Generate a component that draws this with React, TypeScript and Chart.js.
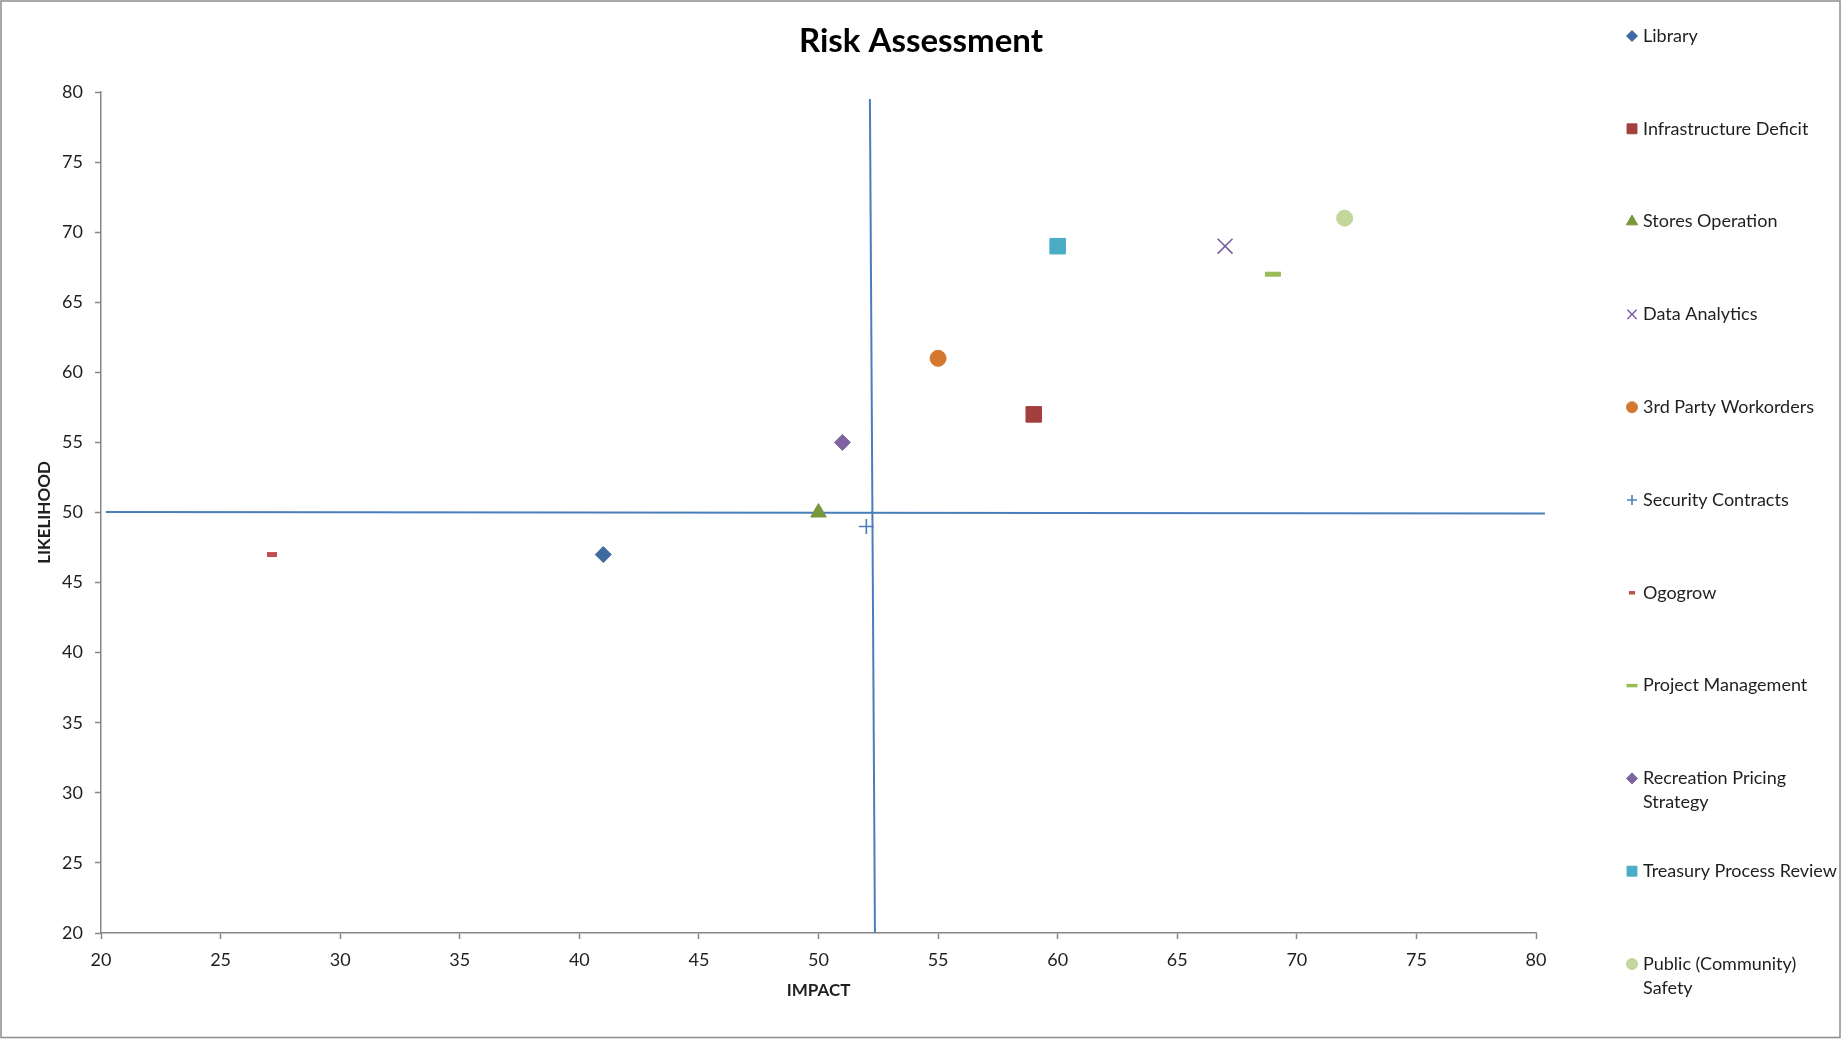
import React, { useEffect, useRef } from 'react';
import { Chart, registerables } from 'chart.js';
import { drawPoint } from 'chart.js/helpers';

Chart.register(...registerables);

// ---------------- DATA ----------------
const seriesNames = [
  'Library',
  'Infrastructure Deficit',
  'Stores Operation',
  'Data Analytics',
  '3rd Party Workorders',
  'Security Contracts',
  'Ogogrow',
  'Project Management',
  'Recreation Pricing Strategy',
  'Treasury Process Review',
  'Public (Community) Safety',
];
const legendLines = [
  ['Library'],
  ['Infrastructure Deficit'],
  ['Stores Operation'],
  ['Data Analytics'],
  ['3rd Party Workorders'],
  ['Security Contracts'],
  ['Ogogrow'],
  ['Project Management'],
  ['Recreation Pricing', 'Strategy'],
  ['Treasury Process Review'],
  ['Public (Community)', 'Safety'],
];
const impactValues = [41, 59, 50, 67, 55, 52, 27.15, 69, 51, 60, 72];
const likelihoodValues = [47, 57, 50, 69, 61, 49, 47, 67, 55, 69, 71];

const xTickValues = [20, 25, 30, 35, 40, 45, 50, 55, 60, 65, 70, 75, 80];
const yTickValues = [20, 25, 30, 35, 40, 45, 50, 55, 60, 65, 70, 75, 80];

const verticalDividerX = [52.15, 52.36];
const verticalDividerY = [79.5, 20];
const horizontalDividerX = [20.2, 80.37];
const horizontalDividerY = [50.04, 49.92];

// ---------------- STYLE ----------------
const seriesColors = [
  '#3f6aa0',
  '#a33f3c',
  '#77973b',
  '#7a5f9e',
  '#d4782f',
  '#4a7ebb',
  '#c0504d',
  '#9bbb59',
  '#8064a2',
  '#4bacc6',
  '#c3d69b',
];
const seriesShapes = ['rectRot', 'rect', 'triangle', 'crossRot', 'circle', 'cross', 'line', 'line', 'rectRot', 'rect', 'circle'];
const pointRadii = [8, 11, 9, 10.5, 8, 7.5, 5, 8, 8, 11, 8];
const pointBorders = [1, 1, 1, 1.6, 1, 1.6, 5, 5, 1, 1, 1];
const legendRadii = [5.5, 7, 6.5, 6.5, 5.5, 5, 3, 5.5, 5.5, 7, 5.5];
const legendBorders = [1, 1, 1, 1.5, 1, 1.5, 3.5, 3.5, 1, 1, 1];

const FONT = 'Lato, "Liberation Sans", sans-serif';
const AXIS_COLOR = '#868686';
const TEXT_COLOR = '#1f1f1f';
const DIVIDER_COLOR = '#4a7ebb';

const W = 1842;
const H = 1039;
const LEGEND_MARKER_X = 1632;
const LEGEND_TEXT_X = 1643;
const LEGEND_TOP = 36;
const LEGEND_STEP = 92.8;

const backgroundPlugin = {
  id: 'bgBorder',
  beforeDraw(chart: any) {
    const { ctx } = chart;
    ctx.save();
    ctx.fillStyle = '#ffffff';
    ctx.fillRect(0, 0, chart.width, chart.height);
    ctx.strokeStyle = '#8c8c8c';
    ctx.lineWidth = 1.5;
    ctx.strokeRect(1, 1, chart.width - 3, chart.height - 2.5);
    ctx.restore();
  },
};

const sideLegendPlugin = {
  id: 'sideLegend',
  afterDraw(chart: any) {
    const { ctx } = chart;
    ctx.save();
    seriesNames.forEach((_, i) => {
      const y = LEGEND_TOP + i * LEGEND_STEP;
      ctx.fillStyle = seriesColors[i];
      ctx.strokeStyle = seriesColors[i];
      ctx.lineWidth = legendBorders[i];
      drawPoint(
        ctx,
        { pointStyle: seriesShapes[i], radius: legendRadii[i], borderWidth: legendBorders[i], rotation: 0 } as any,
        LEGEND_MARKER_X,
        y
      );
      ctx.fillStyle = TEXT_COLOR;
      ctx.font = `18px ${FONT}`;
      ctx.textAlign = 'left';
      ctx.textBaseline = 'middle';
      legendLines[i].forEach((line, j) => ctx.fillText(line, LEGEND_TEXT_X, y + j * 24));
    });
    ctx.restore();
  },
};

export default function App() {
  const canvasRef = useRef<HTMLCanvasElement | null>(null);

  useEffect(() => {
    if (!canvasRef.current) return;

    const pointDatasets = seriesNames.map((name, i) => ({
      label: name,
      data: [{ x: impactValues[i], y: likelihoodValues[i] }],
      pointStyle: seriesShapes[i],
      pointRadius: pointRadii[i],
      pointBorderWidth: pointBorders[i],
      pointBackgroundColor: seriesColors[i],
      pointBorderColor: seriesColors[i],
      showLine: false,
    }));

    const dividerDatasets = [
      {
        label: 'vertical divider',
        data: verticalDividerX.map((x, i) => ({ x, y: verticalDividerY[i] })),
        showLine: true,
        borderColor: DIVIDER_COLOR,
        borderWidth: 2,
        pointRadius: 0,
        clip: false,
      },
      {
        label: 'horizontal divider',
        data: horizontalDividerX.map((x, i) => ({ x, y: horizontalDividerY[i] })),
        showLine: true,
        borderColor: DIVIDER_COLOR,
        borderWidth: 2,
        pointRadius: 0,
        clip: false,
      },
    ];

    const chart = new Chart(canvasRef.current, {
      type: 'scatter',
      data: { datasets: [...pointDatasets, ...dividerDatasets] as any },
      options: {
        responsive: false,
        animation: false,
        events: [],
        layout: { padding: 0 },
        plugins: {
          legend: { display: false },
          tooltip: { enabled: false },
          title: {
            display: true,
            text: 'Risk Assessment',
            color: '#000000',
            font: { family: FONT, size: 33, weight: 'bold' },
            padding: { top: 21.6, bottom: 30.8 },
          },
        },
        scales: {
          x: {
            type: 'linear',
            position: 'bottom',
            min: 20,
            max: 80,
            afterBuildTicks: (s: any) => {
              s.ticks = xTickValues.map((v) => ({ value: v }));
            },
            afterFit: (s: any) => {
              s.height = 106;
            },
            ticks: {
              color: TEXT_COLOR,
              font: { family: FONT, size: 18 },
              padding: 10,
              maxRotation: 0,
              autoSkip: false,
            },
            grid: { drawOnChartArea: false, drawTicks: true, tickLength: 6, tickColor: AXIS_COLOR, tickWidth: 1.5 },
            border: { display: true, color: AXIS_COLOR, width: 1.5 },
            title: {
              display: true,
              text: 'IMPACT',
              color: TEXT_COLOR,
              font: { family: FONT, size: 17, weight: 'bold' },
              padding: { top: 0, bottom: 38 },
            },
          },
          y: {
            type: 'linear',
            position: 'left',
            min: 20,
            max: 80,
            afterBuildTicks: (s: any) => {
              s.ticks = yTickValues.map((v) => ({ value: v }));
            },
            afterFit: (s: any) => {
              s.width = 101;
            },
            ticks: {
              color: TEXT_COLOR,
              font: { family: FONT, size: 18 },
              padding: 12,
              autoSkip: false,
            },
            grid: { drawOnChartArea: false, drawTicks: true, tickLength: 6, tickColor: AXIS_COLOR, tickWidth: 1.5 },
            border: { display: true, color: AXIS_COLOR, width: 1.5 },
            title: {
              display: true,
              text: 'LIKELIHOOD',
              color: TEXT_COLOR,
              font: { family: FONT, size: 17, weight: 'bold' },
              padding: { top: 34.5, bottom: 0 },
            },
          },
          legendSpace: {
            type: 'linear',
            position: 'right',
            display: true,
            min: 0,
            max: 1,
            afterFit: (s: any) => {
              s.width = 306;
            },
            ticks: { display: false },
            grid: { display: false, drawTicks: false },
            border: { display: false },
          },
        },
      } as any,
      plugins: [backgroundPlugin, sideLegendPlugin],
    });

    return () => chart.destroy();
  }, []);

  return (
    <div style={{ position: 'fixed', left: 0, top: 0, width: W, height: H, background: '#fff' }}>
      <canvas ref={canvasRef} width={W} height={H} style={{ width: W, height: H, display: 'block' }} />
    </div>
  );
}
